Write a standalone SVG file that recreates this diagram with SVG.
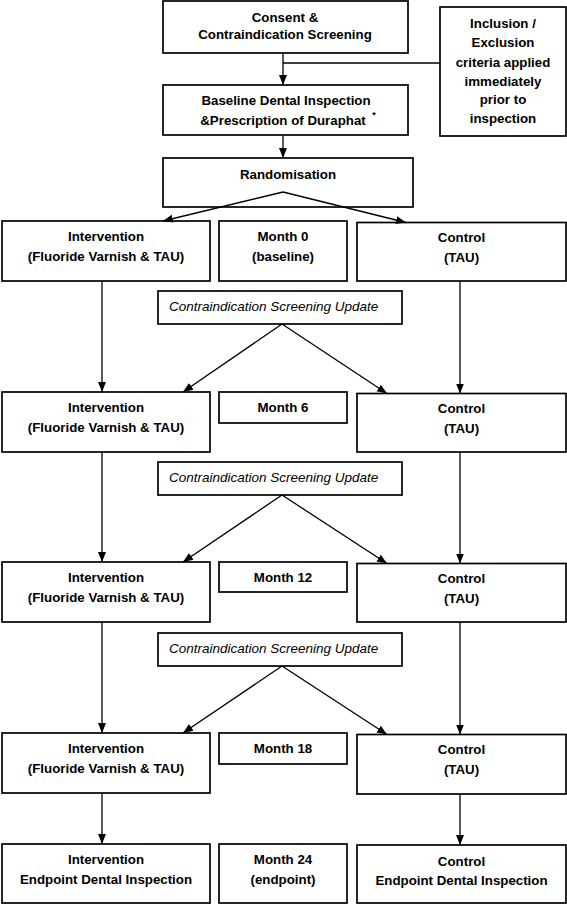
<svg xmlns="http://www.w3.org/2000/svg" width="567" height="905" viewBox="0 0 567 905">
<style>
rect{fill:#fff;stroke:#000;stroke-width:1.7}
text{font-family:"Liberation Sans",Arial,sans-serif;font-size:13.3px;font-weight:bold;fill:#000;text-anchor:middle;dominant-baseline:central}
text.it{font-weight:normal;font-style:italic;font-size:13.5px;text-anchor:start}
.c line{stroke:#000;stroke-width:1.3;fill:none}
</style>
<defs>
<marker id="ah" markerUnits="userSpaceOnUse" markerWidth="10" markerHeight="10" viewBox="0 0 10 10" refX="10" refY="5" orient="auto">
<path d="M0,1 L10,5 L0,9 Z" fill="#000"/>
</marker>
</defs>
<g id="consent"><rect x="163" y="1" width="245" height="52"/><text x="285" y="17">Consent &amp;</text><text x="285" y="34">Contraindication Screening</text></g>
<g id="inclusion"><rect x="440" y="7" width="126" height="129"/>
<text x="503" y="23">Inclusion /</text><text x="503" y="42">Exclusion</text><text x="503" y="62">criteria applied</text><text x="503" y="81">immediately</text><text x="503" y="99">prior to</text><text x="503" y="118">inspection</text></g>
<g id="baseline"><rect x="163" y="85" width="245" height="50"/><text x="286" y="100">Baseline Dental Inspection</text><text x="283" y="120">&amp;Prescription of Duraphat</text><text x="374" y="115" style="font-size:9px">*</text></g>
<g id="randomisation"><rect x="163" y="158" width="250" height="49"/><text x="288" y="174">Randomisation</text></g>

<g id="int0"><rect x="2" y="221" width="208" height="60"/><text x="106" y="236">Intervention</text><text x="106" y="256">(Fluoride Varnish &amp; TAU)</text></g>
<g id="month0"><rect x="219" y="221" width="128" height="60"/><text x="283" y="236">Month 0</text><text x="283" y="256">(baseline)</text></g>
<g id="ctl0"><rect x="357" y="222.5" width="209" height="58.5"/><text x="461.5" y="237">Control</text><text x="461.5" y="257">(TAU)</text></g>
<g id="upd1"><rect x="158" y="291" width="244" height="33"/><text class="it" x="169" y="306">Contraindication Screening Update</text></g>

<g id="int1"><rect x="2" y="392" width="208" height="60"/><text x="106" y="407">Intervention</text><text x="106" y="427">(Fluoride Varnish &amp; TAU)</text></g>
<g id="month6"><rect x="219" y="392" width="128" height="31"/><text x="283" y="407">Month 6</text></g>
<g id="ctl1"><rect x="357" y="393.5" width="209" height="58.5"/><text x="461.5" y="408">Control</text><text x="461.5" y="428">(TAU)</text></g>
<g id="upd2"><rect x="158" y="462" width="244" height="33"/><text class="it" x="169" y="477">Contraindication Screening Update</text></g>

<g id="int2"><rect x="2" y="562" width="208" height="60"/><text x="106" y="577">Intervention</text><text x="106" y="597">(Fluoride Varnish &amp; TAU)</text></g>
<g id="month12"><rect x="219" y="562" width="128" height="30"/><text x="283" y="577">Month 12</text></g>
<g id="ctl2"><rect x="357" y="563.5" width="209" height="58.5"/><text x="461.5" y="578">Control</text><text x="461.5" y="598">(TAU)</text></g>
<g id="upd3"><rect x="158" y="633" width="244" height="33"/><text class="it" x="169" y="648">Contraindication Screening Update</text></g>

<g id="int3"><rect x="2" y="733" width="208" height="60"/><text x="106" y="748">Intervention</text><text x="106" y="768">(Fluoride Varnish &amp; TAU)</text></g>
<g id="month18"><rect x="219" y="733" width="128" height="31"/><text x="283" y="748">Month 18</text></g>
<g id="ctl3"><rect x="357" y="734.5" width="209" height="59.5"/><text x="461.5" y="749">Control</text><text x="461.5" y="769">(TAU)</text></g>

<g id="int4"><rect x="2" y="844" width="208" height="59"/><text x="106" y="859">Intervention</text><text x="106" y="879">Endpoint Dental Inspection</text></g>
<g id="month24"><rect x="219" y="844" width="128" height="59"/><text x="283" y="859">Month 24</text><text x="283" y="879">(endpoint)</text></g>
<g id="ctl4"><rect x="357" y="845" width="209" height="58"/><text x="461.5" y="861">Control</text><text x="461.5" y="880">Endpoint Dental Inspection</text></g>

<g id="connectors" class="c">
<line x1="283" y1="53" x2="283" y2="85" marker-end="url(#ah)"/>
<line x1="283" y1="63" x2="440" y2="63"/>
<line x1="283" y1="135" x2="283" y2="158" marker-end="url(#ah)"/>
<line x1="283" y1="192" x2="163" y2="221" marker-end="url(#ah)"/>
<line x1="283" y1="192" x2="406" y2="222.5" marker-end="url(#ah)"/>

<line x1="102" y1="281" x2="102" y2="392" marker-end="url(#ah)"/>
<line x1="460" y1="281" x2="460" y2="393.5" marker-end="url(#ah)"/>
<line x1="282" y1="324" x2="183" y2="392" marker-end="url(#ah)"/>
<line x1="282" y1="324" x2="387" y2="393.5" marker-end="url(#ah)"/>

<line x1="102" y1="452" x2="102" y2="562" marker-end="url(#ah)"/>
<line x1="460" y1="452" x2="460" y2="563.5" marker-end="url(#ah)"/>
<line x1="282" y1="495" x2="183" y2="562" marker-end="url(#ah)"/>
<line x1="282" y1="495" x2="387" y2="563.5" marker-end="url(#ah)"/>

<line x1="102" y1="622" x2="102" y2="733" marker-end="url(#ah)"/>
<line x1="460" y1="622" x2="460" y2="734.5" marker-end="url(#ah)"/>
<line x1="282" y1="666" x2="183" y2="733" marker-end="url(#ah)"/>
<line x1="282" y1="666" x2="387" y2="734.5" marker-end="url(#ah)"/>

<line x1="102" y1="793" x2="102" y2="844" marker-end="url(#ah)"/>
<line x1="460" y1="794" x2="460" y2="845" marker-end="url(#ah)"/>
</g>
</svg>
